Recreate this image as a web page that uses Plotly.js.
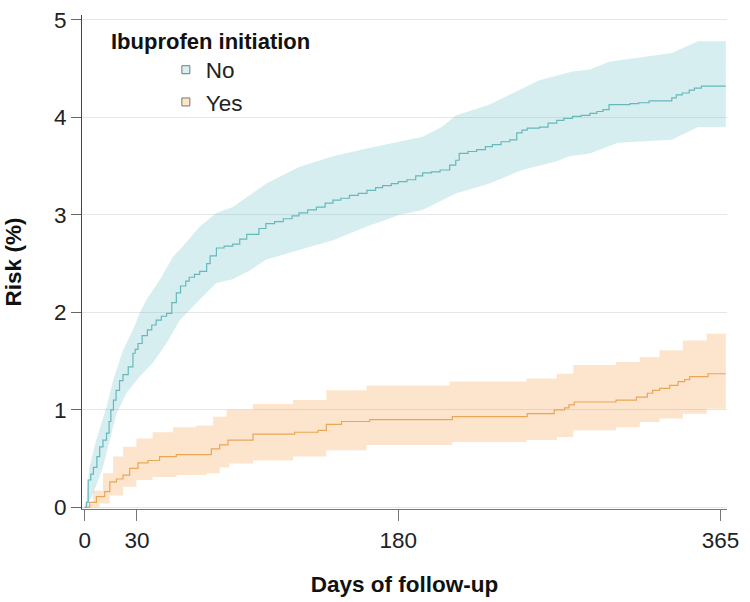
<!DOCTYPE html>
<html>
<head>
<meta charset="utf-8">
<script src="https://cdn.plot.ly/plotly-3.0.1.min.js"></script>
<style>html,body{margin:0;padding:0;background:#fff;}#chart{width:750px;height:602px;}</style>
</head>
<body>
<div id="chart"></div>
<script>
// ---- Data ----
const groupNames = ["No", "Yes"];
const legendTitle = "Ibuprofen initiation";
const xTickVals = [0, 30, 180, 365];
const yTickVals = [0, 1, 2, 3, 4, 5];

// Ibuprofen initiation = No : cumulative risk (%)
const noDays = [0, 1, 2, 3.5, 5, 7, 8.6, 10.5, 12.5, 14, 15, 16.5, 18, 20, 22, 25, 27.7, 29, 30.6, 33, 36, 38.5, 41, 44, 47, 50, 52.6, 55, 58, 60, 63, 66, 70, 72, 75.6, 80, 85, 89, 93, 100, 104, 109, 114, 119, 123, 128, 133, 138, 142.5, 147, 152, 157, 162, 167, 171, 176, 180, 185, 190, 194, 199, 204, 209.5, 213, 215, 220, 225, 230, 234, 239, 244, 248, 251, 254, 261, 266, 271, 275, 280, 285, 290, 294, 297.5, 301, 307, 313, 318, 324, 334, 337, 339.6, 343, 347, 350, 354, 368];
const noRisk = [0, 0.05, 0.28, 0.34, 0.41, 0.52, 0.62, 0.69, 0.76, 0.88, 1.0, 1.1, 1.2, 1.3, 1.36, 1.44, 1.58, 1.62, 1.68, 1.76, 1.82, 1.87, 1.92, 1.96, 1.99, 2.1, 2.2, 2.27, 2.32, 2.36, 2.39, 2.42, 2.5, 2.58, 2.66, 2.68, 2.70, 2.75, 2.80, 2.86, 2.91, 2.93, 2.96, 2.99, 3.02, 3.05, 3.08, 3.12, 3.15, 3.17, 3.2, 3.22, 3.25, 3.28, 3.3, 3.32, 3.34, 3.36, 3.4, 3.43, 3.44, 3.46, 3.51, 3.56, 3.63, 3.65, 3.67, 3.7, 3.72, 3.75, 3.77, 3.84, 3.87, 3.89, 3.9, 3.94, 3.97, 3.99, 4.01, 4.02, 4.04, 4.06, 4.08, 4.13, 4.13, 4.14, 4.15, 4.17, 4.17, 4.2, 4.23, 4.25, 4.28, 4.3, 4.32, 4.32];
const noUpperDays = [0, 1, 2.7, 6.6, 12.5, 16.3, 22, 27.7, 31.5, 35.4, 43, 50.7, 58, 66, 75.6, 85, 94.7, 104, 123, 142.5, 162, 181, 194, 205, 213, 232, 245.5, 261, 280, 290, 301, 320, 337, 352, 368];
const noUpper = [0, 0.07, 0.41, 0.69, 1.03, 1.3, 1.61, 1.82, 1.99, 2.13, 2.33, 2.57, 2.71, 2.88, 3.02, 3.08, 3.2, 3.32, 3.49, 3.6, 3.68, 3.75, 3.8, 3.9, 4.02, 4.13, 4.25, 4.38, 4.47, 4.49, 4.57, 4.62, 4.66, 4.78, 4.78];
const noLowerDays = [0, 1, 4.8, 10.5, 14.4, 18.2, 23.9, 31.5, 39, 46.9, 54.6, 62, 66, 75.6, 85, 94.7, 104, 123, 142.5, 162, 181, 194, 213, 232, 251, 271, 278, 290, 306, 337, 352, 368];
const noLower = [0, 0, 0.14, 0.41, 0.69, 0.96, 1.17, 1.34, 1.48, 1.68, 1.92, 2.06, 2.13, 2.3, 2.34, 2.43, 2.54, 2.64, 2.74, 2.88, 3.0, 3.05, 3.22, 3.32, 3.46, 3.55, 3.6, 3.63, 3.74, 3.77, 3.9, 3.9];

// Ibuprofen initiation = Yes : cumulative risk (%)
const yesDays = [0, 1, 2.9, 6.7, 11.5, 14.4, 18.2, 22, 25.8, 30.6, 36.3, 43, 52.6, 72.7, 77.5, 82.3, 96.6, 120.5, 134, 138.7, 147.4, 163.6, 211, 254, 269.5, 275.5, 278, 281, 305, 316.7, 323, 326, 330, 335.8, 340.6, 344.4, 347.3, 357.8, 368];
const yesRisk = [0, 0, 0.05, 0.11, 0.16, 0.26, 0.29, 0.33, 0.40, 0.455, 0.48, 0.52, 0.54, 0.60, 0.64, 0.69, 0.75, 0.77, 0.79, 0.85, 0.88, 0.90, 0.93, 0.96, 1.0, 1.02, 1.05, 1.08, 1.1, 1.13, 1.17, 1.2, 1.22, 1.25, 1.29, 1.31, 1.34, 1.37, 1.37];
const yesUpperDays = [0, 1, 4.8, 10.5, 16.3, 22, 29.7, 39, 50.7, 64, 73.7, 81.4, 96.6, 119.6, 138.7, 161.7, 209.6, 253.6, 271, 280.5, 305, 318.6, 330, 343.4, 357, 368];
const yesUpper = [0, 0.03, 0.17, 0.35, 0.52, 0.62, 0.705, 0.77, 0.82, 0.84, 0.93, 1.0, 1.06, 1.1, 1.2, 1.25, 1.29, 1.32, 1.37, 1.46, 1.49, 1.54, 1.61, 1.71, 1.78, 1.78];
const yesLowerDays = [0, 8.6, 14.4, 22, 29.7, 39, 52.6, 70, 77.5, 83, 96.6, 119.6, 138.7, 161.7, 211, 253.6, 271, 280.5, 305, 318.6, 330, 343.4, 357, 368];
const yesLower = [0, 0.04, 0.12, 0.21, 0.28, 0.31, 0.33, 0.35, 0.41, 0.45, 0.48, 0.52, 0.585, 0.64, 0.67, 0.69, 0.72, 0.79, 0.82, 0.875, 0.91, 0.96, 1.01, 1.01];

// ---- Styles ----
const tealLine = "#67b8bb";
const tealBand = "rgba(120,200,205,0.30)";
const tealSwatch = "#d7f0f1";
const orangeLine = "#e9a655";
const orangeBand = "rgba(250,170,90,0.30)";
const orangeSwatch = "#fde5c8";
const FONT = "Liberation Sans, Arial, sans-serif";

const traces = [
  {x: yesLowerDays, y: yesLower, mode: "lines", line: {width: 0, shape: "hv"}, showlegend: false, hoverinfo: "skip"},
  {x: yesUpperDays, y: yesUpper, mode: "lines", line: {width: 0, shape: "hv"}, fill: "tonexty", fillcolor: orangeBand, showlegend: false, hoverinfo: "skip"},
  {x: noLowerDays, y: noLower, mode: "lines", line: {width: 0, shape: "linear"}, showlegend: false, hoverinfo: "skip"},
  {x: noUpperDays, y: noUpper, mode: "lines", line: {width: 0, shape: "linear"}, fill: "tonexty", fillcolor: tealBand, showlegend: false, hoverinfo: "skip"},
  {x: yesDays, y: yesRisk, mode: "lines", line: {color: orangeLine, width: 1.2, shape: "hv"}, showlegend: false},
  {x: noDays, y: noRisk, mode: "lines", line: {color: tealLine, width: 1.2, shape: "hv"}, showlegend: false},
  {x: [null], y: [null], mode: "markers", name: groupNames[0], marker: {symbol: "square", size: 8, color: tealSwatch, line: {color: "#777", width: 1}}},
  {x: [null], y: [null], mode: "markers", name: groupNames[1], marker: {symbol: "square", size: 8, color: orangeSwatch, line: {color: "#777", width: 1}}}
];

const layout = {
  width: 750, height: 602,
  margin: {l: 82, r: 23, t: 15, b: 93, pad: 0},
  paper_bgcolor: "#fff", plot_bgcolor: "#fff",
  font: {family: FONT, color: "#222", size: 22},
  showlegend: true,
  legend: {x: 0.13, y: 0.932, xanchor: "left", yanchor: "top", bgcolor: "rgba(0,0,0,0)", traceorder: "normal",
           font: {family: FONT, size: 22.5, color: "#222"}, tracegroupgap: 0},
  xaxis: {
    range: [-1.55, 368.7], tickvals: xTickVals, ticktext: xTickVals.map(String),
    showgrid: false, zeroline: false, showline: true, linecolor: "#777", linewidth: 1,
    ticks: "outside", ticklen: 11, tickcolor: "#777", tickwidth: 1,
    tickfont: {family: FONT, size: 22.5, color: "#222"},
    title: {text: "<b>Days of follow-up</b>", font: {family: FONT, size: 22.5, color: "#111"}, standoff: 24}
  },
  yaxis: {
    range: [-0.0175, 5.05], tickvals: yTickVals, ticktext: yTickVals.map(String),
    showgrid: true, gridcolor: "#e6e6e6", gridwidth: 1, zeroline: false,
    showline: true, linecolor: "#444", linewidth: 1,
    ticks: "outside", ticklen: 10, tickcolor: "#666", tickwidth: 1,
    tickfont: {family: FONT, size: 22.5, color: "#222"},
    title: {text: "<b>Risk (%)</b>", font: {family: FONT, size: 22.5, color: "#111"}, standoff: 26}
  },
  annotations: [
    {text: "<b>" + legendTitle + "</b>", xref: "paper", yref: "paper", x: 0.0413, y: 0.947,
     xanchor: "left", yanchor: "middle", showarrow: false, font: {family: FONT, size: 22, color: "#111"}}
  ]
};

Plotly.newPlot("chart", traces, layout, {displayModeBar: false, staticPlot: true});
</script>
</body>
</html>
